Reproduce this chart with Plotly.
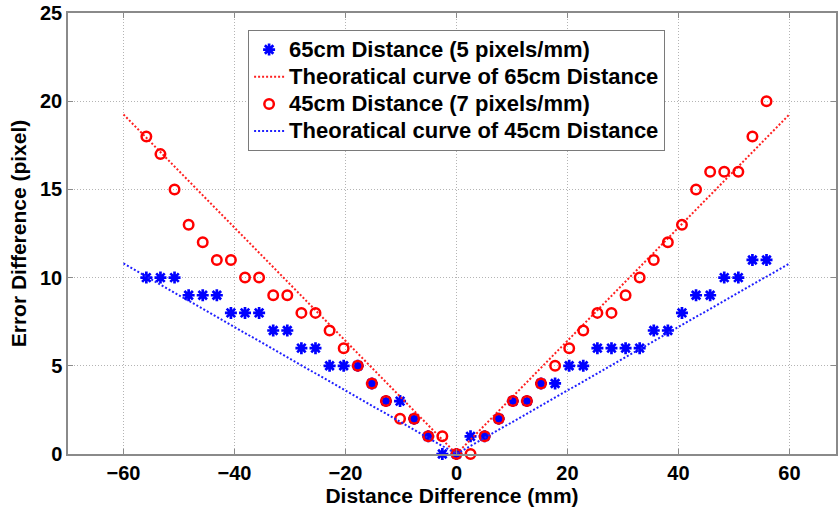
import plotly.graph_objects as go

# ---- data ----
x_mm = [-55.88, -53.34, -50.80, -48.26, -45.72, -43.18, -40.64, -38.10, -35.56, -33.02,
        -30.48, -27.94, -25.40, -22.86, -20.32, -17.78, -15.24, -12.70, -10.16, -7.62,
        -5.08, -2.54, 0.0, 2.54, 5.08, 7.62, 10.16, 12.70, 15.24, 17.78, 20.32, 22.86,
        25.40, 27.94, 30.48, 33.02, 35.56, 38.10, 40.64, 43.18, 45.72, 48.26, 50.80,
        53.34, 55.88]
err_65 = [10, 10, 10, 9, 9, 9, 8, 8, 8, 7, 7, 6, 6, 5, 5, 5, 4, 3, 3, 2, 1, 0,
          0,
          1, 1, 2, 3, 3, 4, 4, 5, 5, 6, 6, 6, 6, 7, 7, 8, 9, 9, 10, 10, 11, 11]
err_45 = [18, 17, 15, 13, 12, 11, 11, 10, 10, 9, 9, 8, 8, 7, 6, 5, 4, 3, 2, 2, 1, 1,
          0,
          0, 1, 2, 3, 3, 4, 5, 6, 7, 8, 8, 9, 10, 11, 12, 13, 15, 16, 16, 16, 18, 20]
theory_x = [-60, 0, 60]
theory_red = [19.25, 0, 19.25]
theory_blue = [10.8, 0, 10.8]

names = ["65cm Distance (5 pixels/mm)",
         "Theoratical curve of 65cm Distance",
         "45cm Distance (7 pixels/mm)",
         "Theoratical curve of 45cm Distance"]
x_ticks = [-60, -40, -20, 0, 20, 40, 60]
y_ticks = [0, 5, 10, 15, 20, 25]

FONT = "Liberation Sans, Arial, sans-serif"


def legend_label(s):
    return '<span style="font-size:22px">' + s + '</span>'


fig = go.Figure()
fig.add_trace(go.Scatter(
    x=x_mm, y=err_65, mode="markers", name=legend_label(names[0]), cliponaxis=False,
    marker=dict(symbol="asterisk-open", size=10, color="#0000ff",
                line=dict(color="#0000ff", width=2.7))))
fig.add_trace(go.Scatter(
    x=theory_x, y=theory_red, mode="lines", name=legend_label(names[1]),
    line=dict(color="#ff2020", width=2, dash="2px,2px")))
fig.add_trace(go.Scatter(
    x=x_mm, y=err_45, mode="markers", name=legend_label(names[2]), cliponaxis=False,
    marker=dict(symbol="circle-open", size=9.5, color="#ff0000",
                line=dict(color="#ff0000", width=2.5))))
fig.add_trace(go.Scatter(
    x=theory_x, y=theory_blue, mode="lines", name=legend_label(names[3]),
    line=dict(color="#2020ff", width=2, dash="2px,2px")))

axis_common = dict(
    showgrid=True, gridcolor="#b4b4b4", griddash="1px,2px", gridwidth=1,
    zeroline=False, showline=True, linecolor="#8a8a8a", linewidth=1.5,
    mirror="ticks", ticks="inside", ticklen=5, tickcolor="#8a8a8a",
    tickfont=dict(family=FONT, size=20, color="#000000", weight="bold"),
)

fig.update_layout(
    width=838, height=507,
    margin=dict(l=68, r=0, t=13, b=53),
    paper_bgcolor="white", plot_bgcolor="white",
    showlegend=True,
    legend=dict(
        x=0.2345, y=0.9615, xanchor="left", yanchor="top",
        bgcolor="white", bordercolor="#7a7a7a", borderwidth=1,
        font=dict(family=FONT, size=18.6, color="#000000", weight="bold"),
        tracegroupgap=0, itemwidth=30,
    ),
    xaxis=dict(
        range=[-70, 68.4], tickvals=x_ticks,
        title=dict(text="Distance Difference (mm)", standoff=4,
                   font=dict(family=FONT, size=21, color="#000000", weight="bold")),
        **axis_common),
    yaxis=dict(
        range=[0, 25], tickvals=y_ticks,
        title=dict(text="Error Difference (pixel)", standoff=8,
                   font=dict(family=FONT, size=21, color="#000000", weight="bold")),
        **axis_common),
)

fig.write_html("out.html")
